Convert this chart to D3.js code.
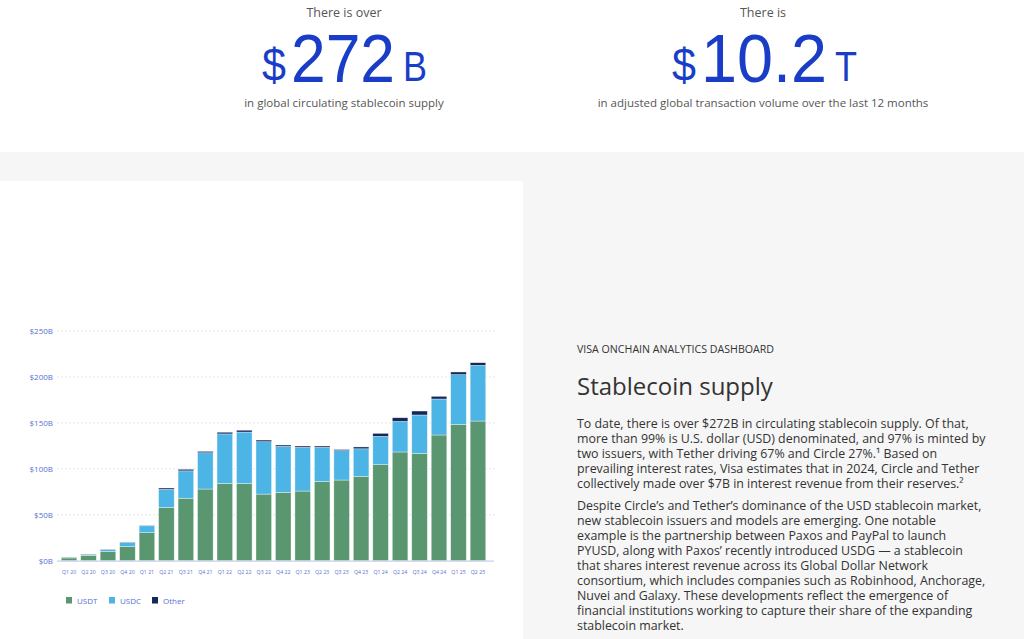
<!DOCTYPE html>
<html><head><meta charset="utf-8">
<script src="https://cdn.jsdelivr.net/npm/d3@7"></script>
<style>
html,body{margin:0;padding:0;background:#fff;}
svg{display:block;}
</style></head>
<body>
<svg id="c" width="1024" height="639"></svg>
<script>
const quarters = ["Q1 20","Q2 20","Q3 20","Q4 20","Q1 21","Q2 21","Q3 21","Q4 21","Q1 22","Q2 22","Q3 22","Q4 22","Q1 23","Q2 23","Q3 23","Q4 23","Q1 24","Q2 24","Q3 24","Q4 24","Q1 25","Q2 25"];
const usdt  = [3, 5.8, 10, 15.6, 30.5, 58, 68, 78, 84, 84, 72.5, 74.4, 75.8, 86.3, 87.8, 91.8, 104.5, 118.3, 116.8, 136.8, 148.4, 152];
const usdc  = [0.7, 1.2, 2, 4, 7.5, 19.6, 29.8, 39.5, 54, 56, 57, 50, 47.5, 37, 32, 30, 30.8, 33.3, 41.8, 39.2, 54.1, 60.6];
const other = [0.3, 0.3, 0.3, 0.4, 0.5, 1.5, 1.7, 1.5, 1.8, 2, 1.8, 1.5, 1.5, 1.5, 1.2, 2, 3.3, 4, 4.3, 2.9, 2.9, 2.9];
const seriesNames = ["USDT","USDC","Other"];
const seriesColors = ["#5a9670","#4db5e6","#13295c"];
const yTicks = [0,50,100,150,200,250];

const svg = d3.select("#c");
const FONT = "'Open Sans', 'Noto Sans', sans-serif";
const BIGFONT = "'Liberation Sans', Arial, sans-serif";

// backgrounds
svg.append("rect").attr("x",0).attr("y",0).attr("width",1024).attr("height",639).attr("fill","#ffffff");
svg.append("rect").attr("x",0).attr("y",152).attr("width",1024).attr("height",487).attr("fill","#f6f6f6");
svg.append("rect").attr("x",0).attr("y",181).attr("width",523).attr("height",458).attr("fill","#ffffff");

// Top stats
function stat(cx, pre, x0, num, numW, unit, unitW, post){
  svg.append("text").attr("x",cx).attr("y",17).attr("text-anchor","middle")
    .attr("font-family",FONT).attr("font-size",12.5).attr("fill","#555").text(pre);
  svg.append("text").attr("x",x0).attr("y",81).attr("font-family",BIGFONT).attr("fill","#1a3dc8")
    .attr("font-size",46).attr("textLength",24).attr("lengthAdjust","spacingAndGlyphs").text("$");
  svg.append("text").attr("x",x0+29).attr("y",82).attr("font-family",BIGFONT).attr("fill","#1a3dc8")
    .attr("font-size",68).attr("textLength",numW).attr("lengthAdjust","spacingAndGlyphs").text(num);
  svg.append("text").attr("x",x0+29+numW+8).attr("y",81).attr("font-family",BIGFONT).attr("fill","#1a3dc8")
    .attr("font-size",42).attr("textLength",unitW).attr("lengthAdjust","spacingAndGlyphs").text(unit);
  svg.append("text").attr("x",cx).attr("y",107).attr("text-anchor","middle")
    .attr("font-family",FONT).attr("font-size",11.5).attr("fill","#555").text(post);
}
stat(344, "There is over", 262, "272", 104, "B", 24, "in global circulating stablecoin supply");
stat(763, "There is", 672, "10.2", 126, "T", 22, "in adjusted global transaction volume over the last 12 months");

// Chart
const x = d3.scaleBand().domain(quarters).range([59.3, 487.7]).paddingInner(0.2).paddingOuter(0.1);
const y = d3.scaleLinear().domain([0,250]).range([560.7, 331]);

// gridlines
svg.append("g").selectAll("line").data(yTicks.filter(d=>d>0)).join("line")
  .attr("x1",57).attr("x2",497).attr("y1",d=>y(d)).attr("y2",d=>y(d))
  .attr("stroke","#e4e4ea").attr("stroke-width",1).attr("stroke-dasharray","2,2");

// y labels
const yAxis = d3.axisLeft(y).tickValues(yTicks).tickSize(0).tickPadding(0).tickFormat(d=>"$"+d+"B");
const ya = svg.append("g").attr("transform","translate(53,0)").call(yAxis);
ya.select(".domain").remove();
ya.selectAll("text").attr("font-family",FONT).attr("font-size",8).attr("fill","#5b6fd4");

// stacked bars
const table = quarters.map((q,i)=>({q, USDT:usdt[i], USDC:usdc[i], Other:other[i]}));
const stack = d3.stack().keys(seriesNames)(table);
svg.append("g").selectAll("g").data(stack).join("g")
  .attr("fill",(d,i)=>seriesColors[i])
  .selectAll("rect").data(d=>d).join("rect")
  .attr("x",d=>x(d.data.q)).attr("width",x.bandwidth())
  .attr("y",d=>y(d[1])).attr("height",d=>Math.max(0,y(d[0])-y(d[1])))
  .attr("stroke","#ffffff").attr("stroke-width",0.6).attr("stroke-opacity",0.6);

// baseline
svg.append("line").attr("x1",57).attr("x2",494).attr("y1",y(0)+0.5).attr("y2",y(0)+0.5)
  .attr("stroke","#c7cfe8").attr("stroke-width",1.2);

// x labels
const xAxis = d3.axisBottom(x).tickSize(0).tickPadding(0);
const xa = svg.append("g").attr("transform","translate(0,574)").call(xAxis);
xa.select(".domain").remove();
xa.selectAll("text").attr("font-family",FONT).attr("font-size",5.2).attr("fill","#5b6fd4").attr("dy","0");

// legend
const legX = [66, 109, 152];
const lg = svg.append("g").selectAll("g").data(seriesNames).join("g")
  .attr("transform",(d,i)=>`translate(${legX[i]},597)`);
lg.append("rect").attr("width",6).attr("height",6.5).attr("fill",(d,i)=>seriesColors[i]);
lg.append("text").attr("x",11).attr("y",6.5).attr("font-family",FONT).attr("font-size",8)
  .attr("fill","#5b6fd4").text(d=>d);

// Right text
const TX = 577;
svg.append("text").attr("x",TX).attr("y",353).attr("font-family",FONT).attr("font-size",10).attr("fill","#333")
  .attr("textLength",197).attr("lengthAdjust","spacingAndGlyphs").text("VISA ONCHAIN ANALYTICS DASHBOARD");
svg.append("text").attr("x",TX).attr("y",395).attr("font-family",FONT).attr("font-size",24).attr("fill","#333")
  .text("Stablecoin supply");

const para1 = [
 "To date, there is over $272B in circulating stablecoin supply. Of that,",
 "more than 99% is U.S. dollar (USD) denominated, and 97% is minted by",
 "two issuers, with Tether driving 67% and Circle 27%.¹ Based on",
 "prevailing interest rates, Visa estimates that in 2024, Circle and Tether",
 "collectively made over $7B in interest revenue from their reserves.²"];
const para2 = [
 "Despite Circle’s and Tether’s dominance of the USD stablecoin market,",
 "new stablecoin issuers and models are emerging. One notable",
 "example is the partnership between Paxos and PayPal to launch",
 "PYUSD, along with Paxos’ recently introduced USDG — a stablecoin",
 "that shares interest revenue across its Global Dollar Network",
 "consortium, which includes companies such as Robinhood, Anchorage,",
 "Nuvei and Galaxy. These developments reflect the emergence of",
 "financial institutions working to capture their share of the expanding",
 "stablecoin market."];
const lineH = 15;
function para(lines, y0){
  svg.append("g").selectAll("text").data(lines).join("text")
    .attr("x",TX).attr("y",(d,i)=>y0+i*lineH)
    .attr("font-family",FONT).attr("font-size",12.4).attr("fill","#333")
    .text(d=>d);
}
para(para1, 428);
para(para2, 510);
</script>
</body></html>
